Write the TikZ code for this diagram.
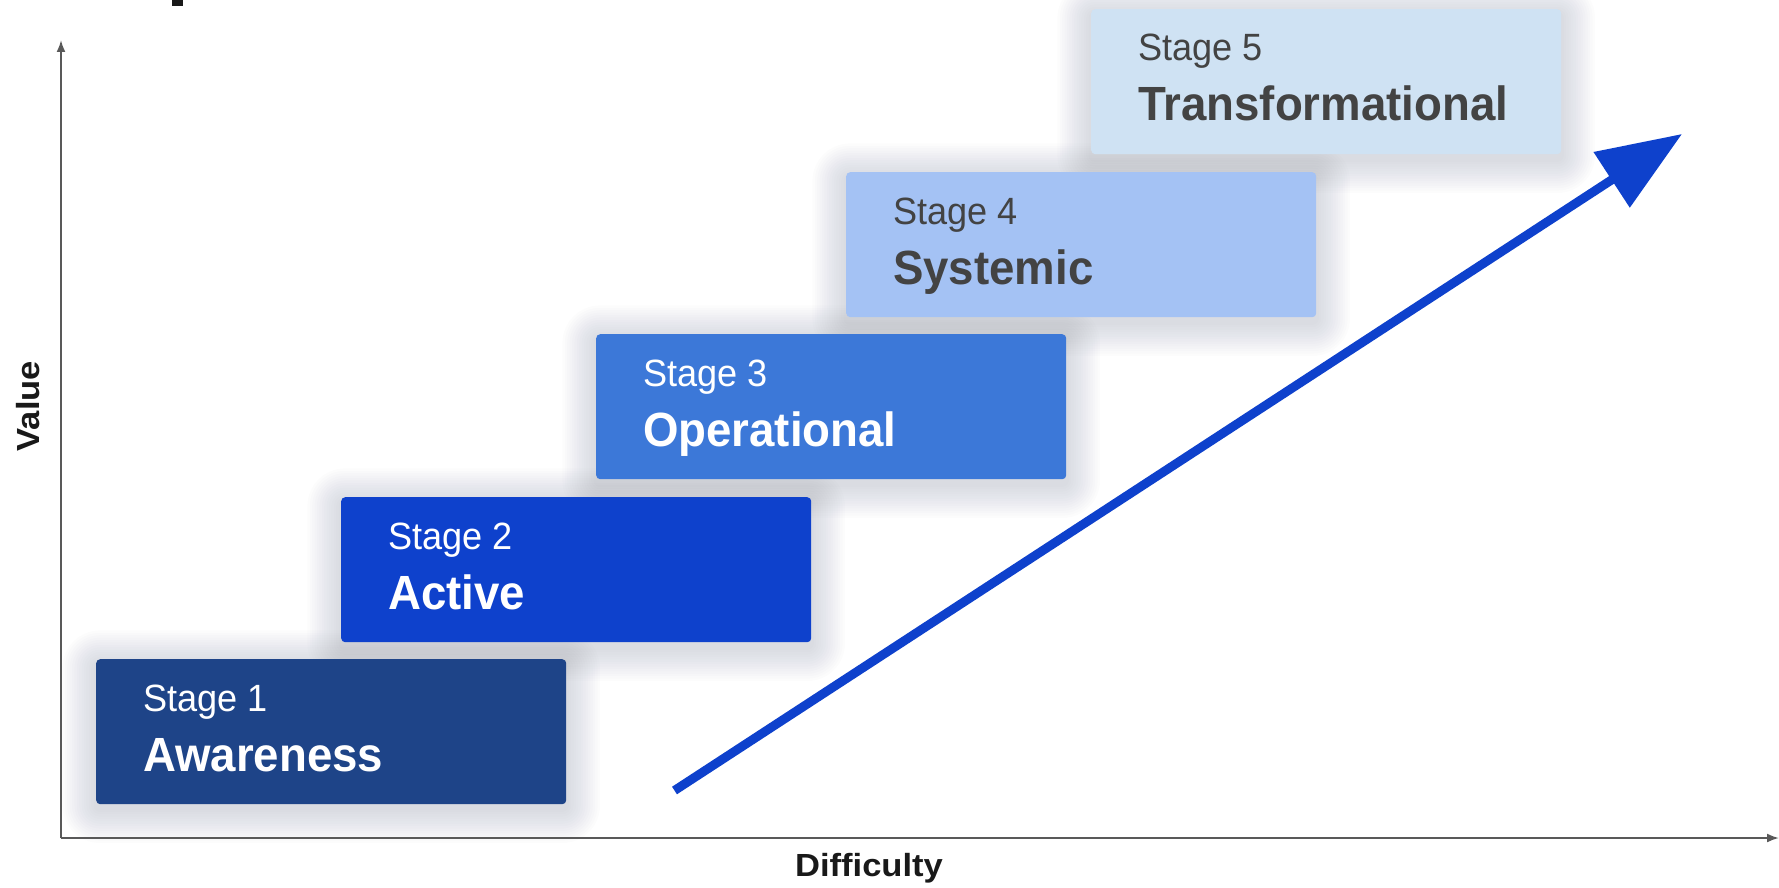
\documentclass[tikz,border=0pt]{standalone}
\usepackage{fontspec}
\setmainfont{Liberation Sans}
\newfontfamily\boxfont{Liberation Sans}[FakeStretch=0.95]
\newfontfamily\axisfont{Liberation Sans}[FakeStretch=1.08]
\usetikzlibrary{arrows.meta,backgrounds}
\definecolor{cA}{HTML}{1E4488}
\definecolor{cB}{HTML}{0E41CC}
\definecolor{cC}{HTML}{3C78D8}
\definecolor{cD}{HTML}{A4C2F4}
\definecolor{cE}{HTML}{CFE2F3}
\definecolor{darktxt}{HTML}{434343}
\definecolor{axisgray}{HTML}{595959}
\definecolor{arrowblue}{HTML}{0E41CC}
\definecolor{shadowcol}{HTML}{3A4252}
\tikzset{
  stagebox/.style={rectangle, rounded corners=4pt, minimum width=470pt, minimum height=145pt,
    anchor=north west, inner sep=0pt},
  shadowlayer/.style={fill=shadowcol, fill opacity=0.012},
  stagelabel/.style={anchor=base west, inner sep=0pt, font=\boxfont\fontsize{38}{44}\selectfont},
  stagename/.style={anchor=base west, inner sep=0pt, font=\boxfont\bfseries\fontsize{48}{56}\selectfont},
  axisline/.style={draw=axisgray, line width=2pt, -{Latex[length=12pt,width=9pt]}},
  axislabel/.style={inner sep=0pt, text=black!90, font=\axisfont\bfseries\fontsize{32}{38}\selectfont},
  bigarrow/.style={draw=arrowblue, line width=9pt, -{Triangle[length=84pt,width=64pt]}}
}
\begin{document}
\begin{tikzpicture}[x=1pt,y=-1pt]
\useasboundingbox (0,0) rectangle (1779,888);
% boxes
\node[stagebox, fill=cA] (b1) at (96,659) {};
\node[stagebox, fill=cB] (b2) at (341,497) {};
\node[stagebox, fill=cC] (b3) at (596,334) {};
\node[stagebox, fill=cD] (b4) at (846,172) {};
\node[stagebox, fill=cE] (b5) at (1091,9) {};
% soft shadows
\begin{pgfonlayer}{background}
\fill[white] (0,0) rectangle (1779,888);
\foreach \b in {b1,b2,b3,b4,b5}{
  \foreach \i in {1,...,14}{
    \pgfmathsetmacro{\d}{2.4*\i}
    \fill[shadowlayer, rounded corners=4pt+\d pt]
      ([shift={(-\d,-\d+5)}]\b.north west) rectangle ([shift={(\d,\d+5)}]\b.south east);
  }
}
\end{pgfonlayer}
% cropped title fragment
\fill[black!90] (172,0) rectangle (183,6);
% axes
\coordinate (origin) at (61,838);
\coordinate (ytop) at (61,40);
\coordinate (xend) at (1779,838);
\draw[axisline] (origin) -- (ytop);
\draw[axisline] (origin) -- (xend);
\node[axislabel, rotate=90] (vlab) at (28,406) {Value};
\node[axislabel, anchor=base] (dlab) at (869,876) {Difficulty};
% texts
\node[stagelabel, text=white] (s1) at ([xshift=47pt,yshift=-52pt]b1.north west) {Stage 1};
\node[stagename, text=white] (n1) at ([xshift=47pt,yshift=-112pt]b1.north west) {Awareness};
\node[stagelabel, text=white] (s2) at ([xshift=47pt,yshift=-52pt]b2.north west) {Stage 2};
\node[stagename, text=white] (n2) at ([xshift=47pt,yshift=-112pt]b2.north west) {Active};
\node[stagelabel, text=white] (s3) at ([xshift=47pt,yshift=-52pt]b3.north west) {Stage 3};
\node[stagename, text=white] (n3) at ([xshift=47pt,yshift=-112pt]b3.north west) {Operational};
\node[stagelabel, text=darktxt] (s4) at ([xshift=47pt,yshift=-52pt]b4.north west) {Stage 4};
\node[stagename, text=darktxt] (n4) at ([xshift=47pt,yshift=-112pt]b4.north west) {Systemic};
\node[stagelabel, text=darktxt] (s5) at ([xshift=47pt,yshift=-52pt]b5.north west) {Stage 5};
\node[stagename, text=darktxt] (n5) at ([xshift=47pt,yshift=-112pt]b5.north west) {Transformational};
% big arrow
\coordinate (astart) at (674.5,790.5);
\coordinate (atip) at (1682,134);
\draw[bigarrow] (astart) -- (atip);
\end{tikzpicture}
\end{document}
